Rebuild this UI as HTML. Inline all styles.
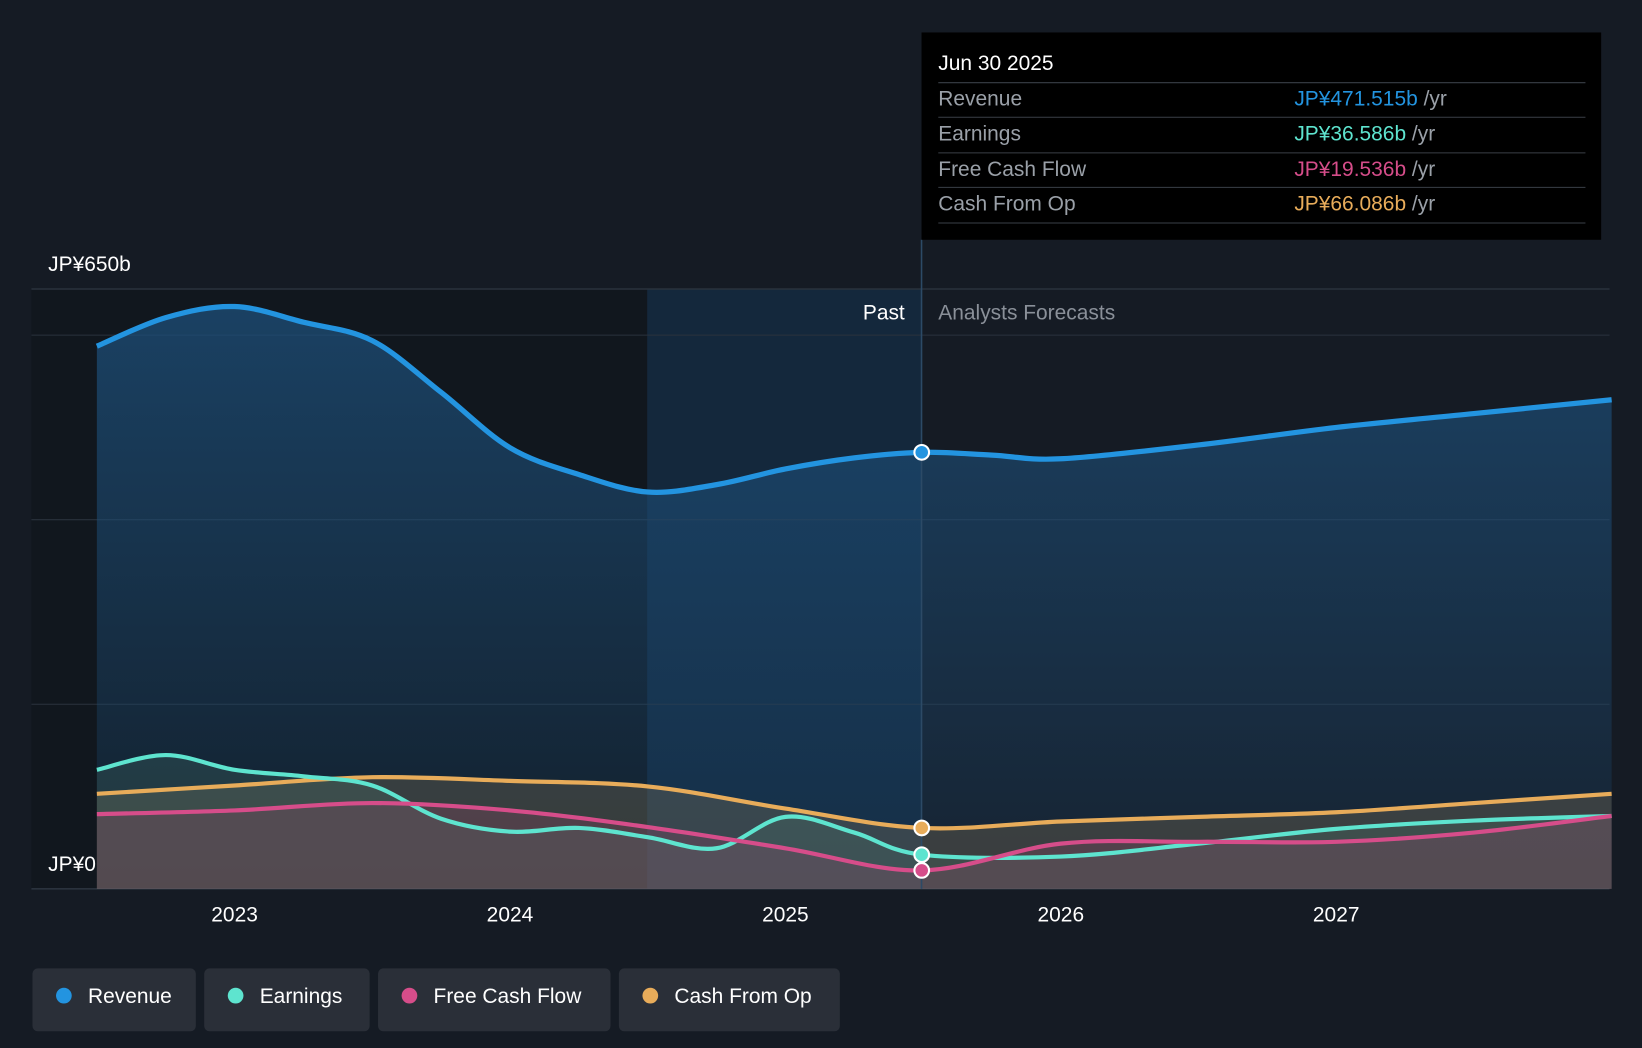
<!DOCTYPE html>
<html><head><meta charset="utf-8">
<style>
html,body{margin:0;padding:0;background:#151b24;}
svg{display:block;font-family:"Liberation Sans","Noto Sans CJK JP",sans-serif;}
</style></head>
<body>
<svg id="chart" width="1642" height="1048" viewBox="0 0 1568 1001" preserveAspectRatio="none" xmlns="http://www.w3.org/2000/svg">
<defs>
<linearGradient id="revGrad" x1="0" y1="0" x2="0" y2="1">
<stop offset="0" stop-color="#1d4f7a" stop-opacity="0.75"/>
<stop offset="1" stop-color="#1d4f7a" stop-opacity="0.15"/>
</linearGradient>
</defs>
<rect x="0" y="0" width="1568" height="1001" fill="#151b24"/>
<rect x="30" y="276" width="588" height="573" fill="#10151c" opacity="0.7"/>
<rect x="618" y="276" width="262" height="573" fill="#143350" opacity="0.55"/>
<g id="grid"></g>
<g id="areas"></g>
<g id="lines"></g>
<line x1="880" y1="229" x2="880" y2="849" stroke="#2c4a66" stroke-width="1.5"/>
<text x="864" y="305" fill="#fff" font-size="20" text-anchor="end">Past</text>
<text x="896" y="305" fill="#8a9099" font-size="20">Analysts Forecasts</text>
<g id="dots"></g>
<g id="xaxis"></g>
<g>
<rect x="880" y="31" width="649" height="198" fill="#000"/>
<text x="896" y="67" fill="#fff" font-size="20">Jun 30 2025</text>
<line x1="896" y1="79" x2="1514" y2="79" stroke="#3a3f47"/>
<text x="896" y="101" fill="#9aa0a8" font-size="20">Revenue</text>
<text x="1236" y="101" font-size="20"><tspan fill="#2394e0">JP¥471.515b</tspan><tspan fill="#9aa0a8"> /yr</tspan></text>
<line x1="896" y1="112" x2="1514" y2="112" stroke="#3a3f47"/>
<text x="896" y="134" fill="#9aa0a8" font-size="20">Earnings</text>
<text x="1236" y="134" font-size="20"><tspan fill="#5ee4cf">JP¥36.586b</tspan><tspan fill="#9aa0a8"> /yr</tspan></text>
<line x1="896" y1="146" x2="1514" y2="146" stroke="#3a3f47"/>
<text x="896" y="168" fill="#9aa0a8" font-size="20">Free Cash Flow</text>
<text x="1236" y="168" font-size="20"><tspan fill="#d64d8a">JP¥19.536b</tspan><tspan fill="#9aa0a8"> /yr</tspan></text>
<line x1="896" y1="179" x2="1514" y2="179" stroke="#3a3f47"/>
<text x="896" y="201" fill="#9aa0a8" font-size="20">Cash From Op</text>
<text x="1236" y="201" font-size="20"><tspan fill="#e8ac5a">JP¥66.086b</tspan><tspan fill="#9aa0a8"> /yr</tspan></text>
<line x1="896" y1="213" x2="1514" y2="213" stroke="#3a3f47"/>
</g>
<g id="legend"></g>
</svg>
<script>
const years=[2022.5,2022.75,2023,2023.25,2023.5,2023.75,2024,2024.25,2024.5,2024.75,2025,2025.25,2025.495,2025.75,2026,2026.5,2027,2027.5,2028];
const revenue=[588,619,631,614,594,538,478,449,430,438,455,467,473,470,466,481,500,515,530];
const earnYears=[2022.5,2022.75,2023,2023.25,2023.5,2023.75,2024,2024.25,2024.5,2024.75,2025,2025.25,2025.495,2026,2026.5,2027,2027.5,2028];
const earnings=[129,145,129,122,112,76,62,66,56,44,78,61,37,35,49,65,74,79];
const cfYears=[2022.5,2023,2023.5,2024,2024.5,2025,2025.495,2026,2026.5,2027,2027.5,2028];
const fcf=[81,85,93,85,67,44,20,49,51,51,61,79];
const cfo=[103,112,121,117,111,87,66,73,78,83,93,103];
const yTicks=[0,200,400,600,650];
const xTicks=[2023,2024,2025,2026,2027];
const x=v=>224+(v-2023)*263;
const y=v=>849-v*0.8815;
const NS="http://www.w3.org/2000/svg";
function mk(tag,attrs,parent){const e=document.createElementNS(NS,tag);for(const k in attrs)e.setAttribute(k,attrs[k]);parent.appendChild(e);return e;}
function path(xs,vs){const p=xs.map((t,i)=>[x(t),y(vs[i])]);let d="M"+p[0][0]+","+p[0][1];
for(let i=0;i<p.length-1;i++){const p0=p[i-1]||p[i],p1=p[i],p2=p[i+1],p3=p[i+2]||p2;
const c1x=p1[0]+(p2[0]-p0[0])/6,c1y=p1[1]+(p2[1]-p0[1])/6,c2x=p2[0]-(p3[0]-p1[0])/6,c2y=p2[1]-(p3[1]-p1[1])/6;
d+=" C"+c1x+","+c1y+" "+c2x+","+c2y+" "+p2[0]+","+p2[1];}return d;}
const grid=document.getElementById('grid');
yTicks.forEach(t=>{const l=mk('line',{x1:30,x2:1537,y1:y(t),y2:y(t),stroke:t==0?'#3a4350':'#2a323d','stroke-width':t==650?1.5:1},grid);

});
const yl1=mk('text',{x:46,y:259,fill:'#fff','font-size':20},grid);yl1.textContent='JP¥650b';


const yl0=mk('text',{x:46,y:832,fill:'#fff','font-size':20},grid);yl0.textContent='JP¥0';


const areas=document.getElementById('areas'),lines=document.getElementById('lines');
const series=[
{n:'revenue',xs:years,v:revenue,c:'#2394e0',f:'url(#revGrad)',fo:1},
{n:'cash-from-op',xs:cfYears,v:cfo,c:'#e8ac5a',f:'#8a7a5a',fo:0.3},
{n:'earnings',xs:earnYears,v:earnings,c:'#5ee4cf',f:'#4a7a70',fo:0.25},
{n:'free-cash-flow',xs:cfYears,v:fcf,c:'#d64d8a',f:'#8a4a66',fo:0.3}];
series.forEach(s=>{const d=path(s.xs,s.v);
const a=mk('path',{d:d+" L"+x(s.xs[s.xs.length-1])+","+y(0)+" L"+x(s.xs[0])+","+y(0)+" Z",fill:s.f,'fill-opacity':s.fo},areas);


const l=mk('path',{d:d,fill:'none',stroke:s.c,'stroke-width':s.n=='revenue'?5:4},lines);


const i=s.xs.indexOf(2025.495);
const dt=mk('circle',{cx:x(2025.495),cy:y(s.v[i]),r:7,fill:s.c,stroke:'#fff','stroke-width':2},document.getElementById('dots'));

});
const xa=document.getElementById('xaxis');
xTicks.forEach(t=>{const tx=mk('text',{x:x(t),y:880,fill:'#fff','font-size':20,'text-anchor':'middle'},xa);tx.textContent=t;

});
const leg=[['Revenue','#2394e0',31,156],['Earnings','#5ee4cf',195,158],['Free Cash Flow','#d64d8a',361,222],['Cash From Op','#e8ac5a',591,211]];
const lg=document.getElementById('legend');
leg.forEach(e=>{const g=mk('g',{},lg);


mk('rect',{x:e[2],y:925,width:e[3],height:60,rx:5,fill:'#2a2f38'},g);
mk('circle',{cx:e[2]+30,cy:951,r:7.5,fill:e[1]},g);
const t=mk('text',{x:e[2]+53,y:958,fill:'#fff','font-size':20},g);t.textContent=e[0];});
</script>
</body></html>
